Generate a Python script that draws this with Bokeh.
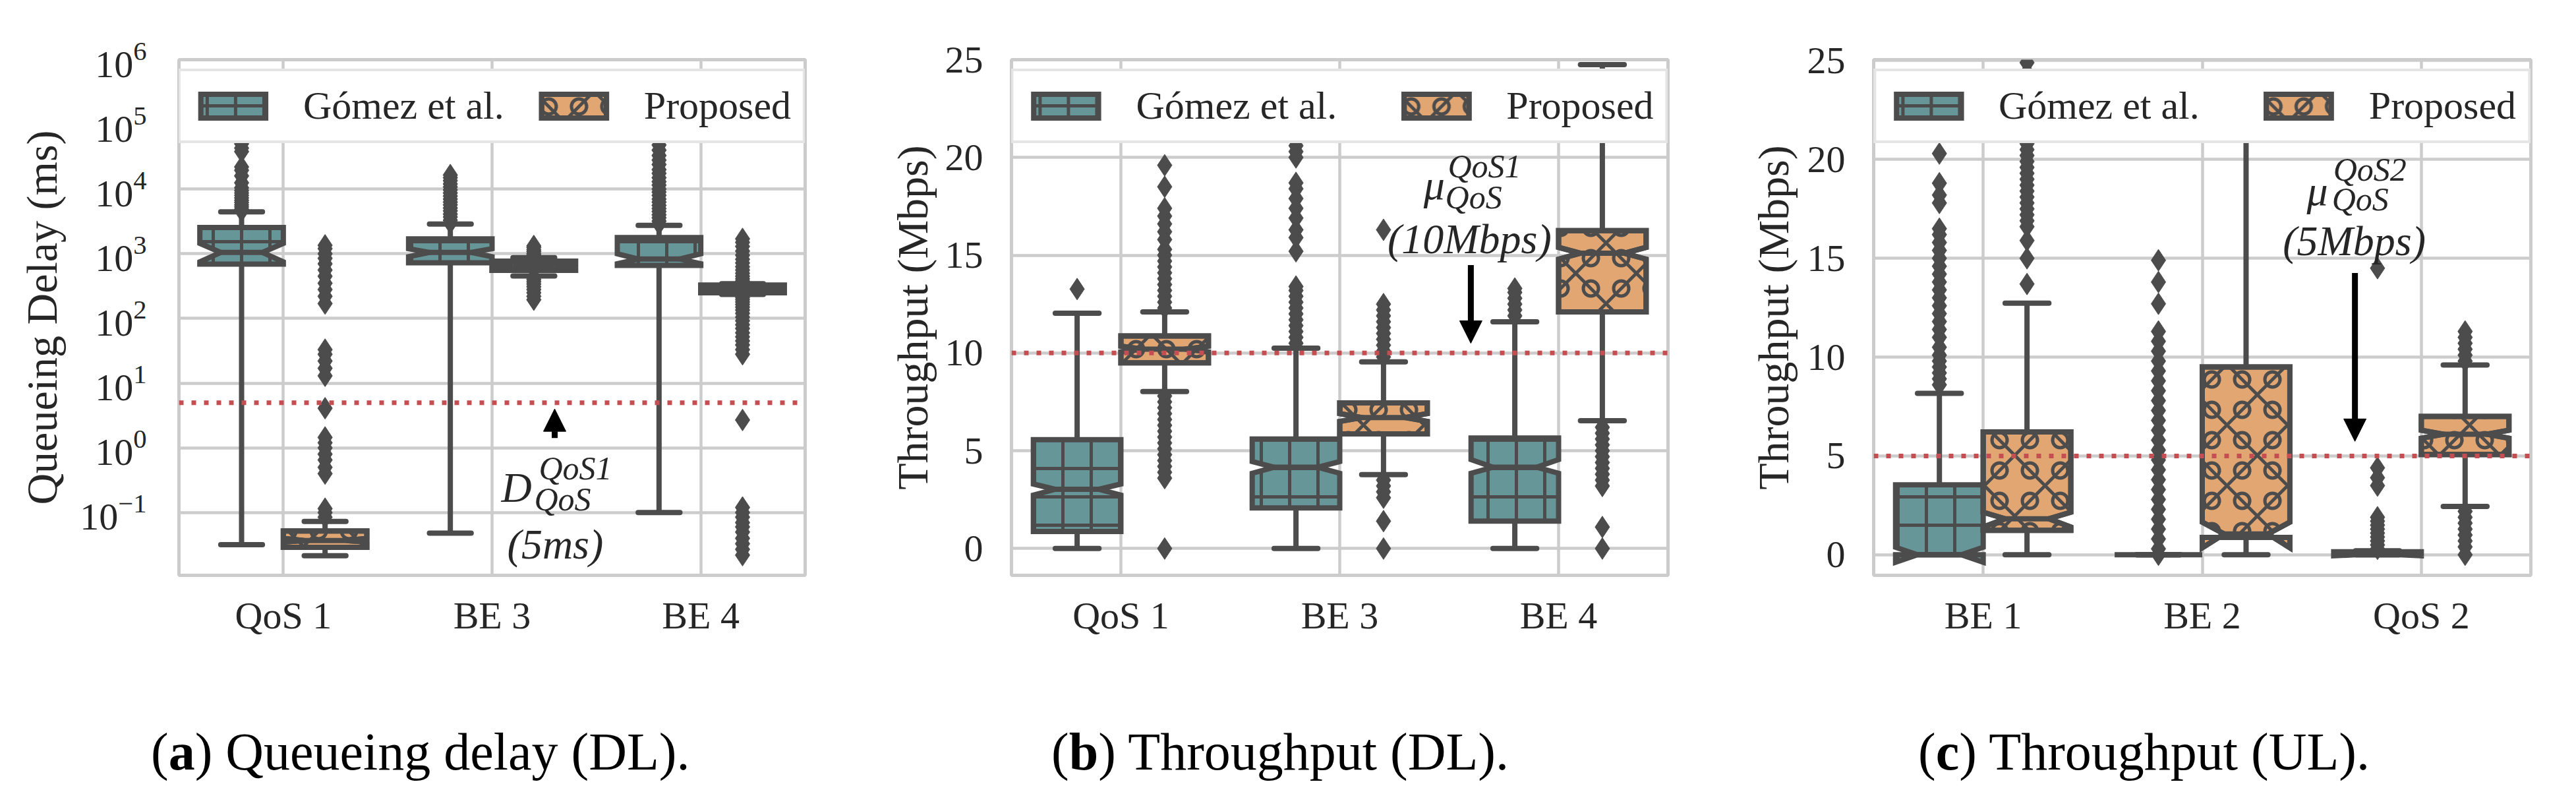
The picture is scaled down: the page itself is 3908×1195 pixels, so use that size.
from bokeh.plotting import figure
from bokeh.models import (Range1d, FixedTicker, Span, Arrow, NormalHead, Label,
                          Legend, LegendItem, Div)
from bokeh.layouts import row, column
from bokeh.embed import file_html
from bokeh.resources import INLINE

# ---------------- colours / fonts ----------------
TEAL = "#679698"
ORANGE = "#e2a673"
EDGE = "#4c4c4c"
GRID = "#cccccc"
RED = "#c44e52"
TXT = "#262626"
FONT = "Liberation Serif"

# ---------------- data: panel (a) queueing delay (ms, log) ----------------
a_cats = ["QoS 1", "BE 3", "BE 4"]
a_gomez_q1 = [692, 724, 662]
a_gomez_med = [1050, 1050, 830]
a_gomez_q3 = [2553, 1700, 1780]
a_gomez_lo = [0.032, 0.048, 0.1]
a_gomez_hi = [4450, 2880, 2750]
a_gomez_cilo = [750, 900, 700]
a_gomez_cihi = [1450, 1200, 1000]
a_gomez_out = [
    [4600, 4900, 5300, 5700, 6200, 6700, 7300, 8000, 8700, 9500, 10500, 12500, 16000, 19500, 22000, 38000, 43000, 50000],
    [3000, 3300, 3700, 4100, 4600, 5100, 5700, 6300, 7000, 7800, 8700, 9700, 10800, 12000, 13500, 15000, 16500],
    [2900, 3200, 3600, 4000, 4500, 5000, 5600, 6300, 7000, 8000, 9000, 10000, 11500, 13000, 15000, 17500, 20000,
     24000, 28000, 33000, 40000, 48000, 57000],
]
a_prop_q1 = [0.029, 553, 250]
a_prop_med = [0.037, 650, 282]
a_prop_q3 = [0.052, 769, 327]
a_prop_lo = [0.0215, 455, 235]
a_prop_hi = [0.073, 870, 345]
a_prop_cilo = [0.035, 630, 275]
a_prop_cihi = [0.040, 670, 290]
a_prop_out = [
    [0.085, 0.1, 0.115, 0.4, 0.5, 0.65, 0.8, 1.0, 1.2, 1.45, 4.1, 13, 17, 22, 28, 33, 170, 220, 280, 350, 450, 560,
     700, 850, 1000, 1200, 1350],
    [900, 950, 1000, 1080, 1150, 1250, 1320, 430, 400, 370, 340, 310, 280, 250, 220, 195],
    [360, 380, 410, 450, 500, 560, 630, 720, 820, 950, 1100, 1300, 1500, 1700, 225, 210, 195, 180, 165, 150, 135,
     120, 105, 92, 80, 70, 60, 52, 45, 39, 33, 28, 2.7, 0.12, 0.1, 0.085, 0.07, 0.06, 0.05, 0.04, 0.033, 0.027, 0.022],
]
a_ref = 5
a_yticks = [0.1, 1, 10, 100, 1000, 1e4, 1e5, 1e6]
a_ylim = [10 ** -1.97, 1e6]

# ---------------- data: panel (b) throughput DL (Mbps) ----------------
b_cats = ["QoS 1", "BE 3", "BE 4"]
b_gomez_q1 = [0.87, 2.08, 1.4]
b_gomez_med = [3.03, 4.16, 4.16]
b_gomez_q3 = [5.57, 5.6, 5.65]
b_gomez_lo = [0, 0, 0]
b_gomez_hi = [12.03, 10.25, 11.6]
b_gomez_cilo = [2.73, 3.85, 3.85]
b_gomez_cihi = [3.3, 4.45, 4.55]
b_gomez_out = [
    [13.27],
    [10.5, 10.8, 11.1, 11.4, 11.7, 12.0, 12.3, 12.6, 12.9, 13.2, 13.4, 15.2, 15.9, 16.3, 16.9, 17.4, 17.9, 18.4,
     18.7, 20.0, 20.3, 20.6, 20.9, 21.5, 22.5, 23.5],
    [11.9, 12.2, 12.5, 12.8, 13.1, 13.3],
]
b_prop_q1 = [9.5, 5.86, 12.1]
b_prop_med = [10.2, 6.7, 15.1]
b_prop_q3 = [10.87, 7.45, 16.26]
b_prop_lo = [8.03, 3.78, 6.54]
b_prop_hi = [12.1, 9.55, 24.75]
b_prop_cilo = [10.05, 6.5, 14.8]
b_prop_cihi = [10.35, 6.9, 15.4]
b_prop_out = [
    [12.3, 12.6, 12.9, 13.2, 13.5, 13.8, 14.1, 14.4, 14.7, 15.0, 15.3, 15.8, 16.2, 16.6, 17.0, 17.4, 18.5, 19.6,
     7.8, 7.5, 7.2, 6.9, 6.6, 6.3, 6.0, 5.7, 5.4, 5.1, 4.8, 4.5, 4.2, 3.9, 3.6, 0],
    [9.8, 10.1, 10.4, 10.7, 11.0, 11.3, 11.6, 11.9, 12.2, 12.5, 16.3, 3.5, 3.2, 2.9, 2.6, 1.4, 0],
    [6.2, 5.9, 5.6, 5.3, 5.0, 4.7, 4.4, 4.1, 3.8, 3.5, 3.2, 1.1, 0],
]
b_ref = 10
b_yticks = [0, 5, 10, 15, 20, 25]
b_ylim = [-1.37, 25.0]

# ---------------- data: panel (c) throughput UL (Mbps) ----------------
c_cats = ["BE 1", "BE 2", "QoS 2"]
c_gomez_q1 = [0, 0, 0]
c_gomez_med = [0, 0, 0]
c_gomez_q3 = [3.54, 0, 0.15]
c_gomez_lo = [0, 0, 0]
c_gomez_hi = [8.17, 0, 0.2]
c_gomez_cilo = [-0.38, 0, -0.05]
c_gomez_cihi = [0.38, 0, 0.05]
c_gomez_out = [
    [8.6, 8.9, 9.2, 9.5, 9.8, 10.1, 10.5, 11.0, 11.4, 11.8, 12.2, 12.6, 13.0, 13.4, 13.8, 14.2, 14.6, 15.0, 15.4,
     15.8, 16.2, 16.5, 17.8, 18.2, 18.8, 20.3],
    [0, 0.3, 0.8, 1.3, 1.8, 2.3, 2.8, 3.3, 3.8, 4.3, 4.8, 5.3, 5.8, 6.3, 6.8, 7.3, 7.8, 8.3, 8.8, 9.3, 9.8, 10.3,
     10.8, 11.3, 12.7, 13.8, 14.9],
    [0.3, 0.5, 0.7, 0.9, 1.1, 1.3, 1.5, 1.7, 1.9, 3.5, 3.9, 4.4, 14.5],
]
c_prop_q1 = [1.24, 0.88, 5.07]
c_prop_med = [1.82, 1.05, 6.1]
c_prop_q3 = [6.22, 9.5, 7.0]
c_prop_lo = [0, 0, 2.45]
c_prop_hi = [12.73, 23.0, 9.6]
c_prop_cilo = [1.4, 0.35, 5.9]
c_prop_cihi = [2.15, 1.65, 6.3]
c_prop_out = [
    [13.7, 15.0, 15.9, 16.6, 16.9, 17.2, 17.5, 17.8, 18.1, 18.4, 18.7, 19.0, 19.3, 19.6, 19.9, 20.2, 20.5, 20.8,
     21.1, 21.5, 22.0, 22.6, 23.2, 23.8, 24.4, 24.9],
    [],
    [9.8, 10.1, 10.4, 10.7, 11.0, 11.3, 2.2, 1.9, 1.6, 1.3, 1.0, 0.7, 0.4, 0],
]
c_ref = 5
c_yticks = [0, 5, 10, 15, 20, 25]
c_ylim = [-1.04, 25.05]

series_names = ["Gómez et al.", "Proposed"]
captions = [("a", "Queueing delay (DL)."), ("b", "Throughput (DL)."), ("c", "Throughput (UL).")]
ylabels = ["Queueing Delay (ms)", "Throughput (Mbps)", "Throughput (Mbps)"]

# annotation texts (data coords)
a_notes = [("D", 1.044, 0.244, "64px", "left"), ("QoS1", 1.224, 0.483, "50px", "left"),
           ("QoS", 1.202, 0.16, "50px", "left"), ("(5ms)", 1.303, 0.0324, "64px", "center")]
a_arrow = (1.30, 1.42, 4.0)
b_notes = [("μ", 1.383, 18.6, "64px", "left"), ("QoS1", 1.494, 19.57, "50px", "left"),
           ("QoS", 1.482, 17.97, "50px", "left"), ("(10Mbps)", 1.593, 15.83, "64px", "center")]
b_arrow = (1.599, 14.5, 10.5)
c_notes = [("μ", 1.477, 18.4, "64px", "left"), ("QoS2", 1.598, 19.49, "50px", "left"),
           ("QoS", 1.592, 17.98, "50px", "left"), ("(5Mbps)", 1.694, 15.87, "64px", "center")]
c_arrow = (1.697, 14.26, 5.74)

BOXW = 0.4
LW = 8
PANEL_H = 972
BOTTOM_BORDER = 100


def draw_hue(p, q1, med, q3, lo, hi, cilo, cihi, outs, offset, proposed):
    n = len(q1)
    pos = [i + offset for i in range(n)]
    xs, ys = [], []
    for i, x in enumerate(pos):
        l, r, nl, nr = x - BOXW / 2, x + BOXW / 2, x - BOXW / 4, x + BOXW / 4
        xs.append([l, r, r, nr, r, r, l, l, nl, l, l])
        ys.append([q1[i], q1[i], cilo[i], med[i], cihi[i], q3[i], q3[i], cihi[i], med[i], cilo[i], q1[i]])
    p.segment(x0=pos, y0=q3, x1=pos, y1=hi, line_color=EDGE, line_width=LW)
    p.segment(x0=pos, y0=q1, x1=pos, y1=lo, line_color=EDGE, line_width=LW)
    cl = [x - BOXW / 4 for x in pos]
    cr = [x + BOXW / 4 for x in pos]
    p.segment(x0=cl, y0=hi, x1=cr, y1=hi, line_color=EDGE, line_width=LW, line_cap="round")
    p.segment(x0=cl, y0=lo, x1=cr, y1=lo, line_color=EDGE, line_width=LW, line_cap="round")
    rends = []
    if not proposed:
        r1 = p.patches(xs, ys, fill_color=TEAL, line_color=EDGE, line_width=LW, line_join="miter",
                       hatch_pattern="+", hatch_scale=43, hatch_weight=5, hatch_color=EDGE)
        rends.append(r1)
    else:
        r1 = p.patches(xs, ys, fill_color=ORANGE, line_color=EDGE, line_width=LW, line_join="miter",
                       hatch_pattern="x", hatch_scale=92, hatch_weight=5, hatch_color=EDGE)
        r2 = p.patches(xs, ys, fill_alpha=0, line_color=EDGE, line_width=LW, line_join="miter",
                       hatch_pattern="o", hatch_scale=46, hatch_weight=5, hatch_color=EDGE)
        rends += [r1, r2]
    p.segment(x0=cl, y0=med, x1=cr, y1=med, line_color=EDGE, line_width=LW)
    ox, oy = [], []
    for i, vals in enumerate(outs):
        ox += [pos[i]] * len(vals)
        oy += list(vals)
    p.scatter(ox, oy, marker="diamond", size=33, fill_color=EDGE, line_color=EDGE, line_width=1)
    return rends


def make_panel(width, border_left, border_right, border_top, cats, ylim, yticks, log,
               g, pr, ref, notes, arrow, ylabel, spacing, tick_standoff, label_standoff):
    p = figure(width=width, height=PANEL_H, output_backend="svg", toolbar_location=None,
               x_range=Range1d(-0.5, 2.5), y_range=Range1d(ylim[0], ylim[1]),
               y_axis_type="log" if log else "linear",
               min_border_left=border_left, min_border_right=border_right,
               min_border_top=border_top, min_border_bottom=BOTTOM_BORDER)
    p.background_fill_color = "white"
    p.border_fill_color = "white"
    p.outline_line_color = GRID
    p.outline_line_width = 5
    p.xaxis.ticker = FixedTicker(ticks=[0, 1, 2])
    p.xaxis.major_label_overrides = {i: c for i, c in enumerate(cats)}
    p.yaxis.ticker = FixedTicker(ticks=yticks)
    for ax in (p.xaxis, p.yaxis):
        ax.axis_line_color = None
        ax.major_tick_line_color = None
        ax.minor_tick_line_color = None
        ax.major_label_text_font = FONT
        ax.major_label_text_font_size = "58px"
        ax.major_label_text_color = TXT
        ax.axis_label_text_font = FONT
        ax.axis_label_text_font_size = "66px"
        ax.axis_label_text_font_style = "normal"
        ax.axis_label_text_color = TXT
    p.xaxis.major_label_standoff = 22
    p.yaxis.major_label_standoff = tick_standoff
    p.yaxis.axis_label = ylabel
    p.yaxis.axis_label_standoff = label_standoff
    for gr in (p.xgrid, p.ygrid):
        gr.grid_line_color = GRID
        gr.grid_line_width = 4.5
    p.xgrid.ticker = FixedTicker(ticks=[0, 1, 2])

    rg = draw_hue(p, *g, offset=-0.2, proposed=False)
    rp = draw_hue(p, *pr, offset=0.2, proposed=True)

    p.add_layout(Span(location=ref, dimension="width", line_color=RED, line_width=7, line_dash="7 12"))

    ax_, y0, y1 = arrow
    p.add_layout(Arrow(end=NormalHead(size=34, fill_color="black", line_color="black", line_width=1),
                       x_start=ax_, y_start=y0, x_end=ax_, y_end=y1, line_color="black", line_width=9))
    for txt, x, y, size, align in notes:
        p.add_layout(Label(x=x, y=y, text=txt, text_font=FONT, text_font_style="italic",
                           text_font_size=size, text_color=TXT, text_align=align,
                           text_baseline="alphabetic"))

    legend = Legend(items=[LegendItem(label=series_names[0], renderers=rg),
                           LegendItem(label=series_names[1], renderers=rp)],
                    orientation="horizontal", location="top_center", margin=14, padding=18,
                    spacing=spacing, label_standoff=45, glyph_width=123, glyph_height=45,
                    label_text_font=FONT, label_text_font_size="60px", label_text_color=TXT,
                    label_text_baseline="middle",
                    border_line_color=GRID, border_line_width=4, background_fill_alpha=1.0)
    p.add_layout(legend)
    return p


pa = make_panel(1332, 271, 111, 90, a_cats, a_ylim, a_yticks, True,
                (a_gomez_q1, a_gomez_med, a_gomez_q3, a_gomez_lo, a_gomez_hi, a_gomez_cilo, a_gomez_cihi, a_gomez_out),
                (a_prop_q1, a_prop_med, a_prop_q3, a_prop_lo, a_prop_hi, a_prop_cilo, a_prop_cihi, a_prop_out),
                a_ref, a_notes, a_arrow, ylabels[0], 44, 43, 18)
pb = make_panel(1310, 202, 112, 81, b_cats, b_ylim, b_yticks, False,
                (b_gomez_q1, b_gomez_med, b_gomez_q3, b_gomez_lo, b_gomez_hi, b_gomez_cilo, b_gomez_cihi, b_gomez_out),
                (b_prop_q1, b_prop_med, b_prop_q3, b_prop_lo, b_prop_hi, b_prop_cilo, b_prop_cihi, b_prop_out),
                b_ref, b_notes, b_arrow, ylabels[1], 89, 37, 10)
pc = make_panel(1244, 200, 47, 81, c_cats, c_ylim, c_yticks, False,
                (c_gomez_q1, c_gomez_med, c_gomez_q3, c_gomez_lo, c_gomez_hi, c_gomez_cilo, c_gomez_cihi, c_gomez_out),
                (c_prop_q1, c_prop_med, c_prop_q3, c_prop_lo, c_prop_hi, c_prop_cilo, c_prop_cihi, c_prop_out),
                c_ref, c_notes, c_arrow, ylabels[2], 89, 37, 12)

# ---------------- caption strip (HTML text) ----------------
CAP_W, CAP_H = 3886, 206
cap_lefts = [229, 1595, 2910]
cap_top = 128
spans = "".join(
    f'<span style="position:absolute;left:{x0}px;top:{cap_top}px;white-space:nowrap;">'
    f'(<b>{letter}</b>) {rest}</span>'
    for (letter, rest), x0 in zip(captions, cap_lefts)
)
cap_html = (f'<div style="position:relative;width:{CAP_W}px;height:{CAP_H}px;'
            f'font-family:\'{FONT}\',serif;font-size:80px;line-height:1;color:black;">'
            + spans + '</div>')
pcap = Div(text=cap_html, width=CAP_W, height=CAP_H, margin=(0, 0, 0, 0))

layout = column(row(pa, pb, pc), pcap)
open("out.html", "w").write(file_html(layout, INLINE))
